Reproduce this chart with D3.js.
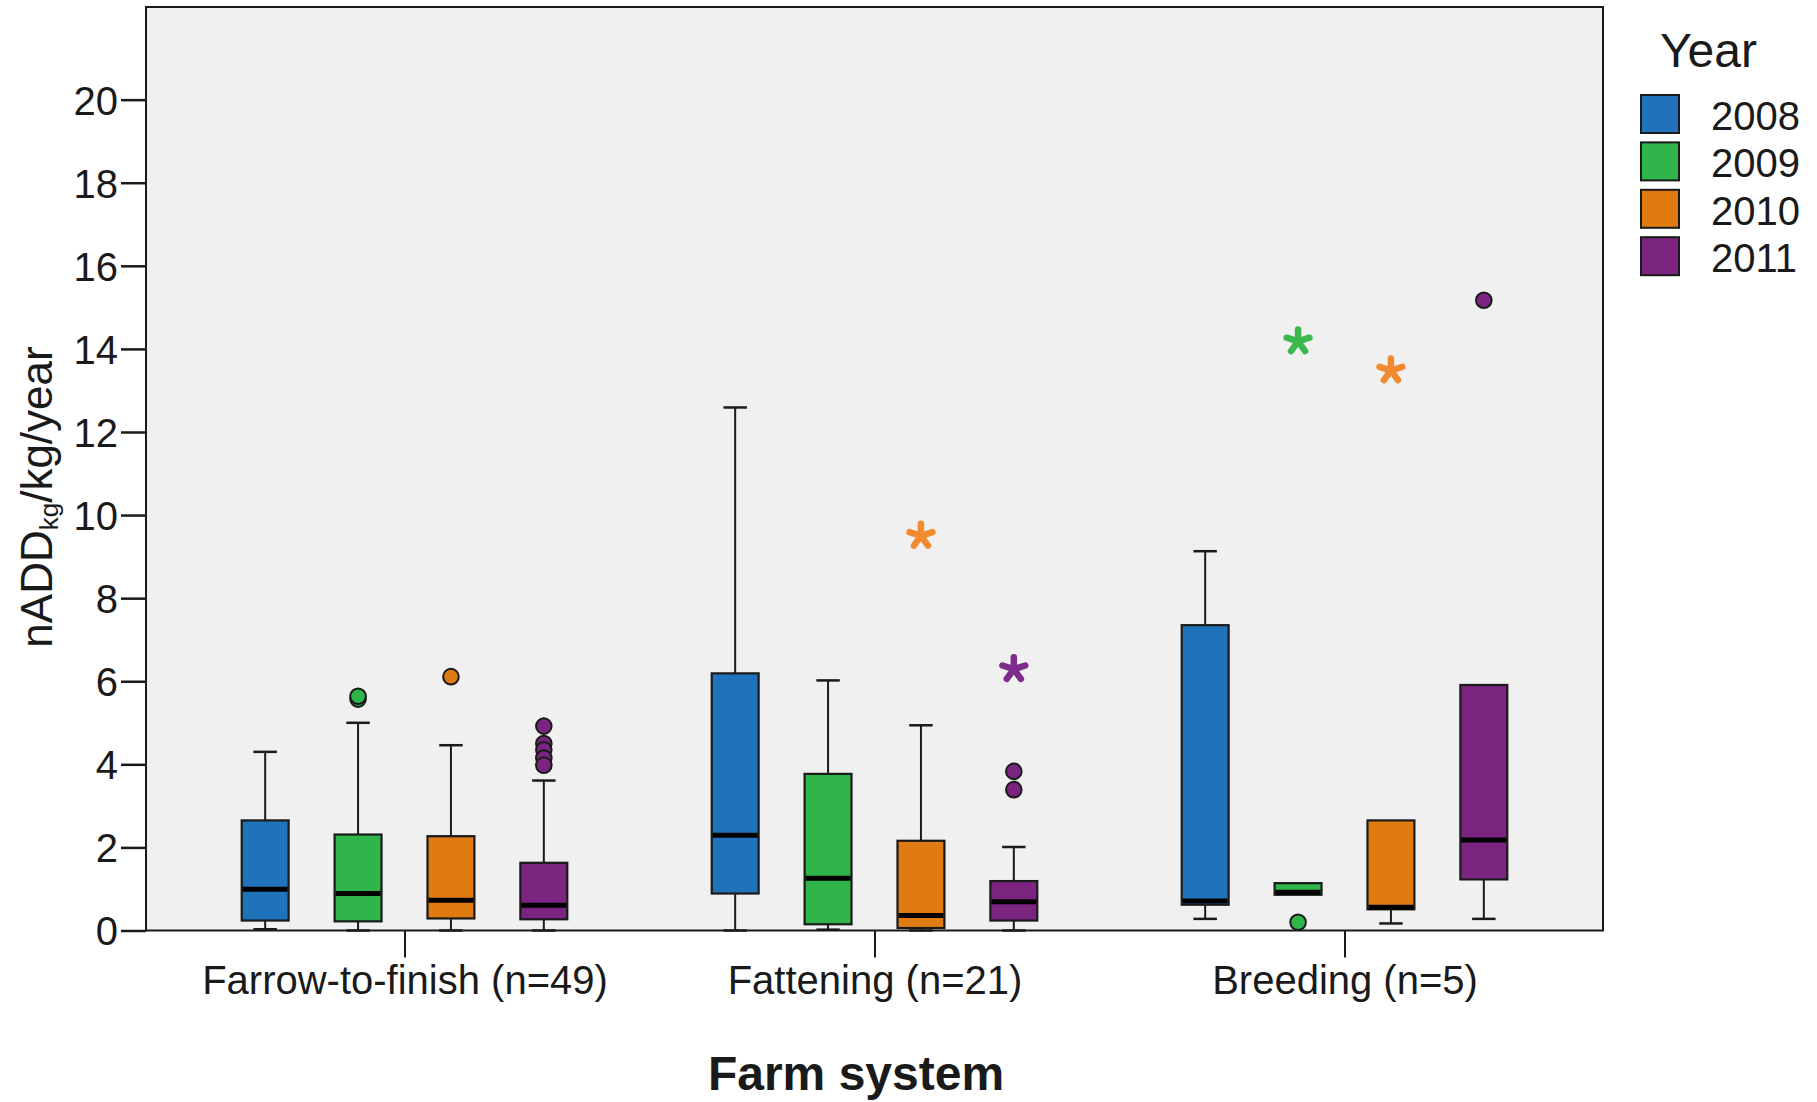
<!DOCTYPE html>
<html>
<head>
<meta charset="utf-8">
<script src="https://cdn.jsdelivr.net/npm/d3@7"></script>
<style>
  body { margin: 0; background: #fff; }
  svg text { font-family: "Liberation Sans", Arial, sans-serif; fill: #1a1a1a; }
</style>
</head>
<body>
<div id="container"></div>
<script>
const WIDTH = 1817;
const HEIGHT = 1102;
const PLOT = { LEFT: 146, RIGHT: 1603, TOP: 7, BOTTOM: 930.5 };

const categories = ['Farrow-to-finish (n=49)', 'Fattening (n=21)', 'Breeding (n=5)'];
const years = ['2008', '2009', '2010', '2011'];
const yTicks = [0, 2, 4, 6, 8, 10, 12, 14, 16, 18, 20];

// [category][year]
const whiskerLow = [[0.03, 0, 0, 0], [0, 0.02, 0, 0], [0.28, 0.86, 0.17, 0.28]];
const q1 = [[0.24, 0.22, 0.29, 0.27], [0.89, 0.15, 0.06, 0.24], [0.62, 0.86, 0.51, 1.23]];
const median = [[0.99, 0.89, 0.73, 0.61], [2.29, 1.26, 0.36, 0.69], [0.71, 0.92, 0.56, 2.18]];
const q3 = [[2.65, 2.31, 2.27, 1.63], [6.19, 3.77, 2.16, 1.19], [7.35, 1.14, 2.65, 5.91]];
const whiskerHigh = [[4.30, 5.0, 4.46, 3.61], [12.59, 6.02, 4.94, 2.01], [9.13, 1.14, 2.65, 5.91]];

// outliers drawn as circles, extremes as asterisks
const outliers = [
  [[], [5.57, 5.64], [6.11], [4.92, 4.5, 4.35, 4.15, 3.98]],
  [[], [], [], [3.83, 3.39]],
  [[], [0.2], [], [15.17]]
];
const extremes = [
  [[], [], [], []],
  [[], [], [9.5], [6.29]],
  [[], [14.18], [13.48], []]
];

const fillColor = d3.scaleOrdinal().domain(years).range(['#2073bb', '#2fb54a', '#e07b12', '#7b2580']);
const starColor = d3.scaleOrdinal().domain(years).range(['#2f80c8', '#3cb94c', '#f28a32', '#7d2c8c']);

const svg = d3.select('#container')
              .append('svg')
                .attr('width', WIDTH)
                .attr('height', HEIGHT);

svg.append('rect')
     .attr('x', PLOT.LEFT)
     .attr('y', PLOT.TOP)
     .attr('width', PLOT.RIGHT - PLOT.LEFT)
     .attr('height', PLOT.BOTTOM - PLOT.TOP)
     .attr('fill', '#f0f0f0')
     .attr('stroke', '#1a1a1a')
     .attr('stroke-width', 2);

const yscale = d3.scaleLinear().domain([0, 22.23]).range([PLOT.BOTTOM, PLOT.TOP]);
const x0 = d3.scalePoint().domain(categories).range([PLOT.LEFT, PLOT.RIGHT]).padding(0.55);
const x1 = d3.scaleBand().domain(years).range([-186, 186]).paddingInner(0.495).paddingOuter(0.25);

// y axis
const yAxis = svg.append('g')
                 .attr('class', 'axis axis--y')
                 .attr('transform', `translate(${PLOT.LEFT}, 0)`)
                 .call(d3.axisLeft(yscale).tickValues(yTicks).tickSize(25).tickPadding(3));
yAxis.select('.domain').remove();
yAxis.selectAll('.tick line').attr('stroke', '#1a1a1a').attr('stroke-width', 2.5);
yAxis.selectAll('.tick text')
     .attr('font-size', 40)
     .attr('font-family', '"Liberation Sans", Arial, sans-serif')
     .attr('fill', '#1a1a1a')
     .attr('dy', '0.36em');

// x axis
const xAxis = svg.append('g')
                 .attr('class', 'axis axis--x')
                 .attr('transform', `translate(0, ${PLOT.BOTTOM})`)
                 .call(d3.axisBottom(x0).tickSize(27).tickPadding(8));
xAxis.select('.domain').remove();
xAxis.selectAll('.tick line').attr('stroke', '#1a1a1a').attr('stroke-width', 2);
xAxis.selectAll('.tick text')
     .attr('font-size', 40)
     .attr('font-family', '"Liberation Sans", Arial, sans-serif')
     .attr('fill', '#1a1a1a')
     .attr('dy', '0.71em');

// boxes
const boxes = [];
categories.forEach((c, i) => years.forEach((y, j) => boxes.push({
  cat: c, year: y,
  lo: whiskerLow[i][j], q1: q1[i][j], med: median[i][j], q3: q3[i][j], hi: whiskerHigh[i][j],
  out: outliers[i][j], ext: extremes[i][j]
})));

const bw = x1.bandwidth();
const cx = d => x0(d.cat) + x1(d.year) + bw / 2;

const box = svg.append('g').attr('id', 'boxes')
               .selectAll('g')
               .data(boxes)
               .enter()
               .append('g')
                 .attr('transform', d => `translate(${cx(d)}, 0)`);

box.filter(d => d.hi > d.q3)
   .append('line')
     .attr('y1', d => yscale(d.q3))
     .attr('y2', d => yscale(d.hi))
     .attr('stroke', '#1a1a1a').attr('stroke-width', 2);
box.filter(d => d.hi > d.q3)
   .append('line')
     .attr('x1', -bw / 4).attr('x2', bw / 4)
     .attr('y1', d => yscale(d.hi)).attr('y2', d => yscale(d.hi))
     .attr('stroke', '#1a1a1a').attr('stroke-width', 2.5);
box.filter(d => d.lo < d.q1)
   .append('line')
     .attr('y1', d => yscale(d.q1))
     .attr('y2', d => yscale(d.lo))
     .attr('stroke', '#1a1a1a').attr('stroke-width', 2);
box.filter(d => d.lo < d.q1)
   .append('line')
     .attr('x1', -bw / 4).attr('x2', bw / 4)
     .attr('y1', d => yscale(d.lo)).attr('y2', d => yscale(d.lo))
     .attr('stroke', '#1a1a1a').attr('stroke-width', 2.5);

box.append('rect')
     .attr('x', -bw / 2)
     .attr('width', bw)
     .attr('y', d => yscale(d.q3))
     .attr('height', d => yscale(d.q1) - yscale(d.q3))
     .attr('fill', d => fillColor(d.year))
     .attr('stroke', '#1a1a1a')
     .attr('stroke-width', 2.2);

box.append('line')
     .attr('x1', -bw / 2 + 1).attr('x2', bw / 2 - 1)
     .attr('y1', d => yscale(d.med)).attr('y2', d => yscale(d.med))
     .attr('stroke', '#000').attr('stroke-width', 5);

box.selectAll('circle')
   .data(d => d.out.map(v => ({ v, year: d.year })))
   .enter()
   .append('circle')
     .attr('cy', d => yscale(d.v))
     .attr('r', 7.8)
     .attr('fill', d => fillColor(d.year))
     .attr('stroke', '#1a1a1a')
     .attr('stroke-width', 2);

// five-armed asterisk for extreme values
const starPath = (() => {
  const r = 12;
  return d3.range(5).map(k => {
    const a = -Math.PI / 2 + k * 2 * Math.PI / 5;
    return `M0,0L${r * Math.cos(a)},${r * Math.sin(a)}`;
  }).join('');
})();

box.selectAll('path.star')
   .data(d => d.ext.map(v => ({ v, year: d.year })))
   .enter()
   .append('path')
     .attr('class', 'star')
     .attr('d', starPath)
     .attr('transform', d => `translate(0, ${yscale(d.v)})`)
     .attr('fill', 'none')
     .attr('stroke', d => starColor(d.year))
     .attr('stroke-width', 6.5)
     .attr('stroke-linecap', 'round');

// axis titles
const yTitle = svg.append('text')
                  .attr('transform', 'translate(52, 497) rotate(-90)')
                  .attr('text-anchor', 'middle')
                  .attr('font-size', 44);
yTitle.append('tspan').text('nADD');
yTitle.append('tspan').attr('font-size', 26).attr('dy', 6).text('kg');
yTitle.append('tspan').attr('dy', -6).text('/kg/year');

svg.append('text')
     .attr('x', 856)
     .attr('y', 1090)
     .attr('text-anchor', 'middle')
     .attr('font-size', 48)
     .attr('font-weight', 'bold')
     .text('Farm system');

// legend
const legend = svg.append('g').attr('id', 'legend');
legend.append('text')
        .attr('x', 1660)
        .attr('y', 67)
        .attr('font-size', 48)
        .text('Year');

const legendRow = legend.selectAll('g')
                        .data(years)
                        .enter()
                        .append('g')
                          .attr('transform', (d, i) => `translate(1641, ${95 + i * 47.4})`);
legendRow.append('rect')
           .attr('width', 38)
           .attr('height', 38)
           .attr('fill', d => fillColor(d))
           .attr('stroke', '#1a1a1a')
           .attr('stroke-width', 2);
legendRow.append('text')
           .attr('x', 70)
           .attr('y', 35)
           .attr('font-size', 40)
           .text(d => d);
</script>
</body>
</html>
